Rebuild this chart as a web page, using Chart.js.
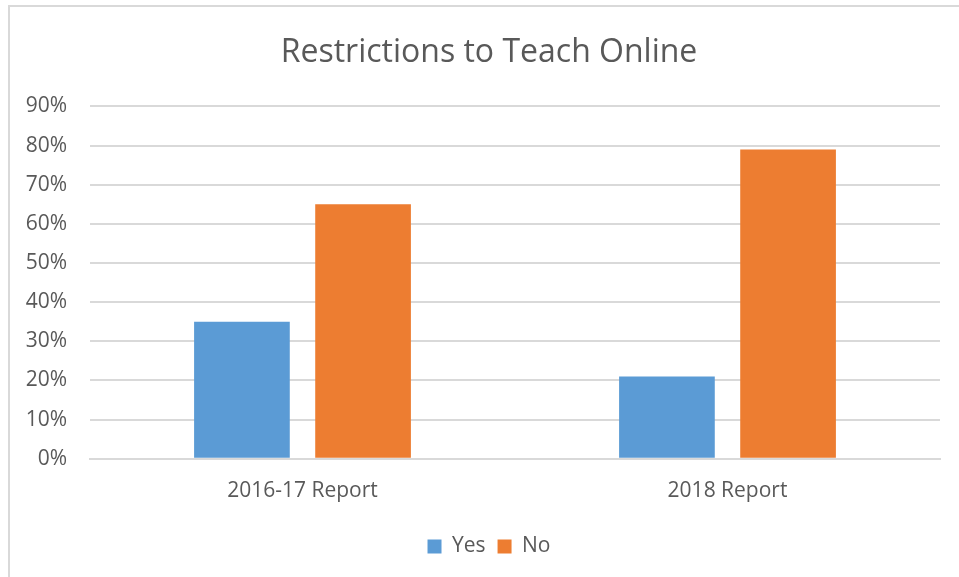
<!DOCTYPE html>
<html lang="en">
<head>
  <meta charset="UTF-8">
  <title>Restrictions to Teach Online</title>
  <script src="https://cdn.jsdelivr.net/npm/chart.js"></script>
  <style>
    html, body { margin: 0; padding: 0; background: #fff; overflow: hidden; }
    .frame { position: absolute; left: 8px; top: 5px; width: 1000px; height: 1000px; border: 2px solid #d9d9d9; }
    canvas { position: absolute; left: 0; top: 0; }
  </style>
</head>
<body>

<div class="frame"></div>
<canvas id="chart" width="959" height="577"></canvas>

<script>
// data
const categories = ["2016-17 Report", "2018 Report"];
const yesValues = [35, 21];
const noValues = [65, 79];
const seriesNames = ["Yes", "No"];

const textColor = "#595959";
const gridColor = "#d9d9d9";
Chart.defaults.font.family = "'Open Sans', sans-serif";
Chart.defaults.color = textColor;

// y labels spill left of the narrow axis box; widen its clip area so they show
const unclipY = {
  id: "unclipY",
  afterLayout(chart) { chart.scales.y.left = 0; }
};

const ctx = document.getElementById("chart").getContext("2d");
new Chart(ctx, {
  type: "bar",
  data: {
    labels: categories,
    datasets: [
      { label: seriesNames[0], data: yesValues, backgroundColor: "#5b9bd5" },
      { label: seriesNames[1], data: noValues, backgroundColor: "#ed7d31" }
    ]
  },
  plugins: [unclipY],
  options: {
    responsive: false,
    animation: false,
    // left padding is wide so title and legend centre on the frame
    layout: { padding: { left: 38, right: 19, top: 0, bottom: 10 } },
    datasets: { bar: { categoryPercentage: 0.57, barPercentage: 0.79 } },
    plugins: {
      title: {
        display: true,
        text: "Restrictions to Teach Online",
        color: textColor,
        font: { size: 32, weight: "normal" },
        padding: { top: 34, bottom: 34 }
      },
      legend: {
        position: "bottom",
        labels: { boxWidth: 14, boxHeight: 14, font: { size: 21 }, color: textColor, padding: 12 }
      },
      tooltip: { enabled: false }
    },
    scales: {
      x: {
        grid: { display: false, drawTicks: false },
        border: { color: gridColor, width: 2 },
        ticks: { font: { size: 21 }, color: textColor, padding: 20 }
      },
      y: {
        min: 0,
        max: 90,
        afterFit: (scale) => { scale.width = 52; },
        grid: { color: gridColor, lineWidth: 2, drawTicks: false },
        border: { display: false },
        ticks: {
          stepSize: 10,
          padding: 23,
          font: { size: 21 },
          color: textColor,
          callback: (v) => v + "%"
        }
      }
    }
  }
});
</script>

</body>
</html>
